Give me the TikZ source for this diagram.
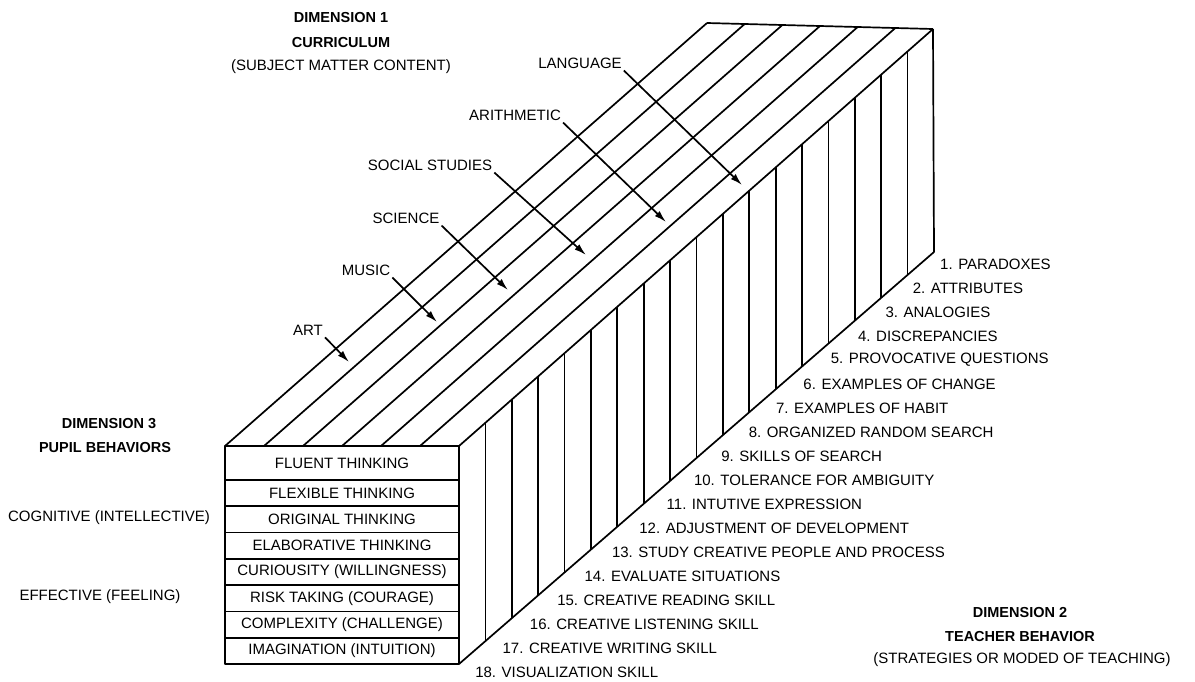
\documentclass[tikz,border=0pt]{standalone}
\usepackage{fontspec}
\setmainfont{Liberation Sans}
\usetikzlibrary{arrows.meta}

\begin{document}
\begin{tikzpicture}[x=1pt, y=-1pt, >={Latex[length=12pt,width=7pt]},
    edge/.style={line width=1.7pt, line join=round},
    lbl/.style={inner sep=2pt, font=\fontsize{15}{18}\selectfont},
    dimtitle/.style={inner sep=2pt, font=\fontsize{14.5}{17}\selectfont\bfseries}]
                \useasboundingbox (0,0) rectangle (1195,681);

                % Block corners
                \coordinate (FTL) at (225,446);
                \coordinate (FBR) at (459,664);
                \coordinate (BTL) at (707,23);
                \coordinate (BTR) at (933,29);
                \coordinate (BBR) at (934,252);

                % Top face (curriculum strips)
                \foreach \k in {0,...,6}
                    \draw[edge] (225+39*\k,446) -- (707+37.67*\k,23+\k);
                \draw[edge] (BTL) -- (BTR);

                % Right face (teacher behavior strips)
                \draw[edge] (BTR) -- (BBR) -- (FBR);
                \foreach \j in {1,...,17}
                    \draw[edge] ({459+26.39*\j},{446-26.39*\j*0.8797}) -- ({459+26.39*\j},{664-26.39*\j*0.8674});

                % Front face (pupil behaviors)
                \draw[edge] (FTL) rectangle (FBR);
                \foreach \k in {0,...,6}
                    \draw[edge] (225,{480+26.29*\k}) -- (459,{480+26.29*\k});
                \node[lbl] (pb1) at (342,463) {FLUENT THINKING};
                \foreach \txt [count=\i from 2] in {FLEXIBLE THINKING, ORIGINAL THINKING,
                        ELABORATIVE THINKING, CURIOUSITY (WILLINGNESS), RISK TAKING (COURAGE),
                        COMPLEXITY (CHALLENGE), IMAGINATION (INTUITION)}
                    \node[lbl] (pb\i) at (342,{493.1+26.29*(\i-2)}) {\txt};

                % Teacher behavior labels
                \foreach \txt [count=\i] in {PARADOXES, ATTRIBUTES, ANALOGIES, DISCREPANCIES,
                        PROVOCATIVE QUESTIONS, EXAMPLES OF CHANGE, EXAMPLES OF HABIT,
                        ORGANIZED RANDOM SEARCH, SKILLS OF SEARCH, TOLERANCE FOR AMBIGUITY,
                        INTUTIVE EXPRESSION, ADJUSTMENT OF DEVELOPMENT,
                        STUDY CREATIVE PEOPLE AND PROCESS, EVALUATE SITUATIONS,
                        CREATIVE READING SKILL, CREATIVE LISTENING SKILL,
                        CREATIVE WRITING SKILL, VISUALIZATION SKILL}
                    \node[lbl, anchor=west] (tb\i) at ({938-27.35*(\i-1)},{264+24*(\i-1)}) {\i. \txt};

                % Subject labels and arrows
                \node[lbl] (art) at (308,330) {ART};
                \node[lbl] (music) at (366,270) {MUSIC};
                \node[lbl] (science) at (406,218) {SCIENCE};
                \node[lbl] (social) at (430,165) {SOCIAL STUDIES};
                \node[lbl] (arith) at (515,115) {ARITHMETIC};
                \node[lbl] (lang) at (580,63) {LANGUAGE};
                \coordinate (artE) at (349,362);
                \coordinate (musicE) at (437,322);
                \coordinate (scienceE) at (508,290);
                \coordinate (socialE) at (586,255);
                \coordinate (arithE) at (666,222);
                \coordinate (langE) at (742,185);
                \foreach \s in {art,music,science,social,arith,lang}
                    \draw[->,edge] (\s.south east) -- (\s E);

                % Dimension titles
                \node[dimtitle] (dimA) at (341,18) {DIMENSION 1};
                \node[dimtitle] (dimAname) at (341,43) {CURRICULUM};
                \node[lbl] (dimAsub) at (341,67) {(SUBJECT MATTER CONTENT)};
                \node[dimtitle] (dimB) at (1020,612) {DIMENSION 2};
                \node[dimtitle] (dimBname) at (1020,636) {TEACHER BEHAVIOR};
                \node[lbl] (dimBsub) at (1022,660) {(STRATEGIES OR MODED OF TEACHING)};
                \node[dimtitle] (dimC) at (109,424) {DIMENSION 3};
                \node[dimtitle] (dimCname) at (105,448) {PUPIL BEHAVIORS};
                \node[lbl] (cog) at (109,518) {COGNITIVE (INTELLECTIVE)};
                \node[lbl] (aff) at (100,597) {EFFECTIVE (FEELING)};
            \end{tikzpicture}
\end{document}
